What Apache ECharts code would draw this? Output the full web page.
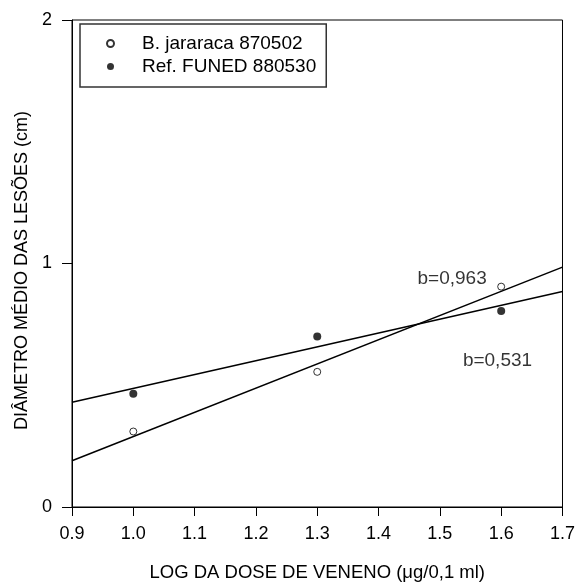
<!DOCTYPE html>
<html>
<head>
<meta charset="utf-8">
<script src="https://cdn.jsdelivr.net/npm/echarts@6/dist/echarts.min.js"></script>
<style>html,body{margin:0;padding:0;background:#fff}#c{width:578px;height:587px}</style>
</head>
<body>
<div id="c"></div>
<script>
// Data
var doseLog = [1.0, 1.3, 1.6];
var jararacaValues = [0.31, 0.555, 0.905];
var funedValues = [0.465, 0.70, 0.805];
var jararacaFitX = [0.9, 1.7];
var jararacaFitY = [0.19, 0.985];
var funedFitX = [0.9, 1.7];
var funedFitY = [0.43, 0.885];
var slopeLabels = ['b=0,963', 'b=0,531'];
var slopeLabelX = [1.52, 1.594];
var slopeLabelY = [0.939, 0.60];
var seriesNames = ['B. jararaca 870502', 'Ref. FUNED 880530'];
var xTicks = [0.9, 1.0, 1.1, 1.2, 1.3, 1.4, 1.5, 1.6, 1.7];
var yTicks = [0, 1, 2];

function pairs(xs, ys) { return xs.map(function (x, i) { return [x, ys[i]]; }); }

var FONT = 'Liberation Sans, Arial, sans-serif';
var chart = echarts.init(document.getElementById('c'));
chart.setOption({
  animation: false,
  grid: { left: 72, right: 15, top: 20, bottom: 77, show: true, borderColor: '#000', borderWidth: 1 },
  legend: {
    orient: 'vertical', left: 80, top: 24,
    data: [
      { name: seriesNames[0], icon: 'circle' },
      { name: seriesNames[1], icon: 'circle' }
    ],
    itemWidth: 7, itemHeight: 7, itemGap: 4,
    padding: [10, 10, 11, 26],
    borderColor: '#333', borderWidth: 1.5,
    textStyle: { fontFamily: FONT, fontSize: 19, color: '#000', padding: [0, 0, 0, 23] },
    selectedMode: false
  },
  xAxis: {
    type: 'value', min: xTicks[0], max: xTicks[xTicks.length - 1], interval: 0.1,
    name: 'LOG DA DOSE DE VENENO (μg/0,1 ml)', nameLocation: 'middle', nameGap: 56,
    nameTextStyle: { fontFamily: FONT, fontSize: 18.5, color: '#000' },
    axisLine: { lineStyle: { color: '#000', width: 1 } },
    axisTick: { inside: false, length: 9, lineStyle: { color: '#000' } },
    axisLabel: { fontFamily: FONT, fontSize: 18, color: '#000', margin: 18,
      formatter: function (v) { return v.toFixed(1); } },
    splitLine: { show: false }
  },
  yAxis: {
    type: 'value', min: yTicks[0], max: yTicks[yTicks.length - 1], interval: 1,
    name: 'DIÂMETRO MÉDIO DAS LESÕES (cm)', nameLocation: 'middle', nameGap: 41,
    nameTextStyle: { fontFamily: FONT, fontSize: 18, color: '#000', padding: [0, 14, 0, 0] },
    axisLine: { lineStyle: { color: '#000', width: 1 } },
    axisTick: { inside: false, length: 10, lineStyle: { color: '#000' } },
    axisLabel: { fontFamily: FONT, fontSize: 18, color: '#000', margin: 20 },
    splitLine: { show: false }
  },
  series: [
    {
      name: seriesNames[0], type: 'scatter', symbol: 'circle', symbolSize: 7,
      data: pairs(doseLog, jararacaValues),
      itemStyle: { color: '#fff', borderColor: '#000', borderWidth: 1 }, z: 5
    },
    {
      name: seriesNames[1], type: 'scatter', symbol: 'circle', symbolSize: 8,
      data: pairs(doseLog, funedValues),
      itemStyle: { color: '#000', borderColor: '#000', borderWidth: 0 }, z: 5
    },
    {
      name: 'fit1', type: 'line', symbol: 'none', data: pairs(jararacaFitX, jararacaFitY),
      lineStyle: { color: '#000', width: 1.5 }, silent: true
    },
    {
      name: 'fit2', type: 'line', symbol: 'none', data: pairs(funedFitX, funedFitY),
      lineStyle: { color: '#000', width: 1.5 }, silent: true
    },
    {
      name: 'labels', type: 'scatter', symbolSize: 1, silent: true,
      itemStyle: { color: 'rgba(0,0,0,0)' },
      data: slopeLabels.map(function (t, i) { return { value: [slopeLabelX[i], slopeLabelY[i]], name: t }; }),
      label: { show: true, position: 'inside', formatter: '{b}', fontFamily: FONT, fontSize: 19, color: '#000' }
    }
  ]
});
</script>
</body>
</html>
